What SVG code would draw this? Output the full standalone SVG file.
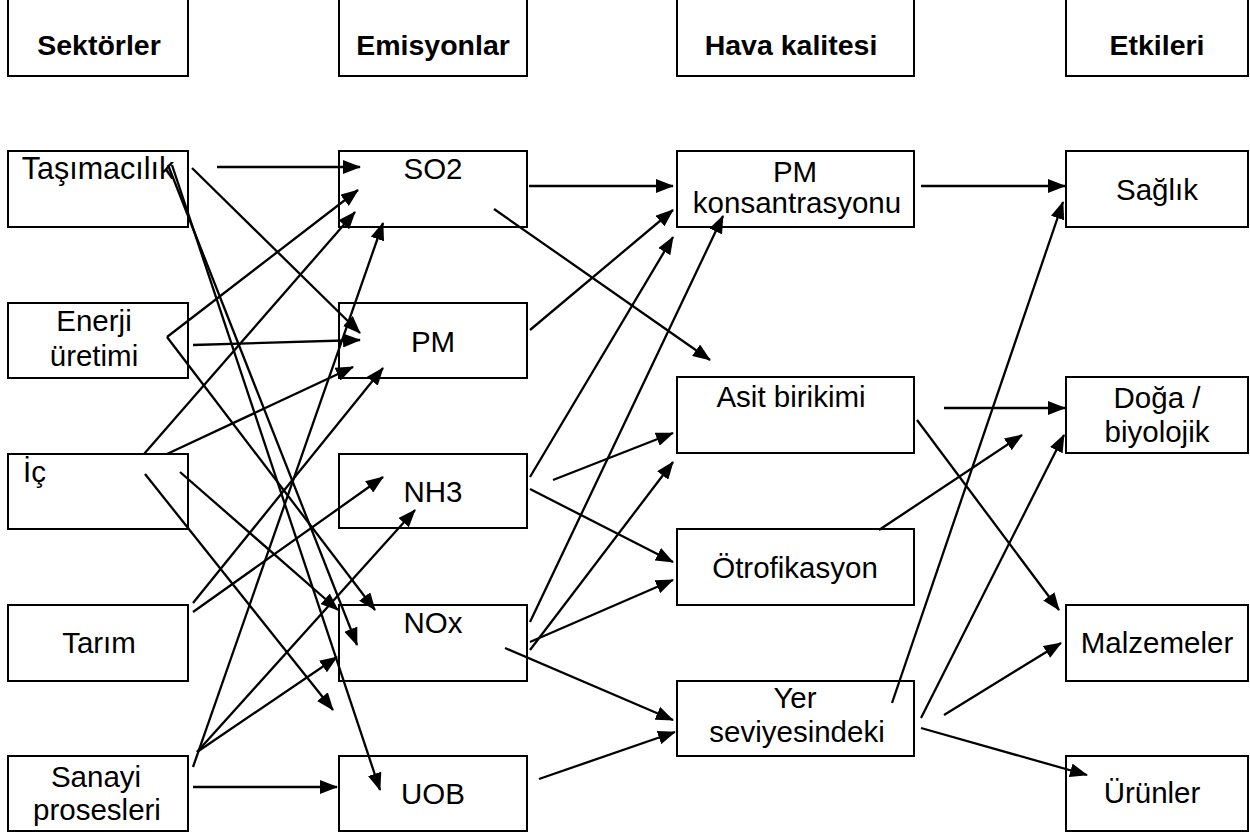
<svg xmlns="http://www.w3.org/2000/svg" width="1250" height="836" viewBox="0 0 1250 836">
<style>
.box{fill:#fff;stroke:#000;stroke-width:2}
.t{font-family:"Liberation Sans",Arial,sans-serif;font-size:29.5px;fill:#000;text-anchor:middle}
.h{font-family:"Liberation Sans",Arial,sans-serif;font-size:28.5px;font-weight:bold;fill:#000;text-anchor:middle}
.c line{stroke:#000;stroke-width:2.3;marker-end:url(#ah)}
</style>
<defs>
<marker id="ah" markerUnits="userSpaceOnUse" markerWidth="18" markerHeight="14" refX="17" refY="7" orient="auto">
<path d="M0,0 L18,7 L0,14 z" fill="#000"/>
</marker>
</defs>
<rect width="1250" height="836" fill="#fff"/>
<g id="h-sektorler"><rect class="box" x="8" y="-10" width="180" height="86"/><text class="h" x="99" y="55">Sektörler</text></g>
<g id="h-emisyonlar"><rect class="box" x="339" y="-10" width="188" height="86"/><text class="h" x="433" y="55">Emisyonlar</text></g>
<g id="h-hava"><rect class="box" x="677" y="-10" width="237" height="86"/><text class="h" x="791" y="55">Hava kalitesi</text></g>
<g id="h-etkileri"><rect class="box" x="1066" y="-10" width="182" height="86"/><text class="h" x="1157" y="55">Etkileri</text></g>

<g id="tasimacilik"><rect class="box" x="8" y="151" width="180" height="76"/><text class="t" x="98" y="179" style="font-size:30.5px">Taşımacılık</text></g>
<g id="enerji"><rect class="box" x="8" y="303" width="180" height="75"/><text class="t" x="94" y="331">Enerji</text><text class="t" x="94" y="366">üretimi</text></g>
<g id="ic"><rect class="box" x="8" y="454" width="180" height="75"/><text class="t" x="23" y="482" style="text-anchor:start">İç</text></g>
<g id="tarim"><rect class="box" x="8" y="605" width="180" height="76"/><text class="t" x="99" y="653">Tarım</text></g>
<g id="sanayi"><rect class="box" x="8" y="756" width="180" height="75"/><text class="t" x="96" y="787">Sanayi</text><text class="t" x="97" y="820">prosesleri</text></g>

<g id="so2"><rect class="box" x="339" y="151" width="188" height="76"/><text class="t" x="433" y="179">SO2</text></g>
<g id="pm"><rect class="box" x="339" y="303" width="188" height="75"/><text class="t" x="433" y="352">PM</text></g>
<g id="nh3"><rect class="box" x="339" y="454" width="188" height="74"/><text class="t" x="433" y="502">NH3</text></g>
<g id="nox"><rect class="box" x="339" y="605" width="188" height="76"/><text class="t" x="433" y="633">NOx</text></g>
<g id="uob"><rect class="box" x="339" y="756" width="188" height="75"/><text class="t" x="433" y="804">UOB</text></g>

<g id="pmk"><rect class="box" x="677" y="151" width="237" height="76"/><text class="t" x="795" y="182">PM</text><text class="t" x="797" y="213">konsantrasyonu</text></g>
<g id="asit"><rect class="box" x="677" y="377" width="237" height="76"/><text class="t" x="791" y="407">Asit birikimi</text></g>
<g id="otro"><rect class="box" x="677" y="529" width="237" height="76"/><text class="t" x="795" y="578">Ötrofikasyon</text></g>
<g id="yer"><rect class="box" x="677" y="681" width="237" height="75"/><text class="t" x="795" y="708">Yer</text><text class="t" x="797" y="742">seviyesindeki</text></g>

<g id="saglik"><rect class="box" x="1066" y="151" width="182" height="76"/><text class="t" x="1157" y="200">Sağlık</text></g>
<g id="doga"><rect class="box" x="1066" y="377" width="182" height="76"/><text class="t" x="1157" y="408">Doğa /</text><text class="t" x="1157" y="442">biyolojik</text></g>
<g id="malzemeler"><rect class="box" x="1066" y="605" width="182" height="76"/><text class="t" x="1157" y="653">Malzemeler</text></g>
<g id="urunler"><rect class="box" x="1066" y="756" width="182" height="75"/><text class="t" x="1152" y="803">Ürünler</text></g>

<g id="connectors" class="c">
<line x1="217" y1="167" x2="360" y2="167"/>
<line x1="192" y1="168" x2="360" y2="333"/>
<line x1="168" y1="165" x2="357" y2="645"/>
<line x1="172" y1="165" x2="380" y2="790"/>
<line x1="167" y1="337" x2="358" y2="190"/>
<line x1="193" y1="345" x2="360" y2="340"/>
<line x1="167" y1="337" x2="375" y2="610"/>
<line x1="144" y1="454" x2="355" y2="212"/>
<line x1="167" y1="454" x2="353" y2="367"/>
<line x1="180" y1="472" x2="338" y2="610"/>
<line x1="145" y1="474" x2="333" y2="710"/>
<line x1="193" y1="603" x2="383" y2="368"/>
<line x1="193" y1="612" x2="383" y2="477"/>
<line x1="193" y1="767" x2="383" y2="223"/>
<line x1="197" y1="752" x2="415" y2="510"/>
<line x1="197" y1="752" x2="337" y2="657"/>
<line x1="193" y1="787" x2="337" y2="787"/>
<line x1="529" y1="186" x2="673" y2="186"/>
<line x1="494" y1="209" x2="710" y2="360"/>
<line x1="530" y1="330" x2="673" y2="210"/>
<line x1="530" y1="477" x2="673" y2="237"/>
<line x1="553" y1="480" x2="673" y2="433"/>
<line x1="530" y1="489" x2="673" y2="562"/>
<line x1="530" y1="622" x2="723" y2="216"/>
<line x1="530" y1="650" x2="673" y2="462"/>
<line x1="530" y1="642" x2="673" y2="580"/>
<line x1="505" y1="648" x2="673" y2="720"/>
<line x1="539" y1="779" x2="675" y2="732"/>
<line x1="921" y1="186" x2="1065" y2="186"/>
<line x1="892" y1="703" x2="1063" y2="202"/>
<line x1="944" y1="408" x2="1065" y2="408"/>
<line x1="879" y1="530" x2="1022" y2="435"/>
<line x1="921" y1="718" x2="1064" y2="435"/>
<line x1="917" y1="420" x2="1059" y2="610"/>
<line x1="944" y1="715" x2="1061" y2="643"/>
<line x1="921" y1="728" x2="1087" y2="775"/>
</g>
</svg>
